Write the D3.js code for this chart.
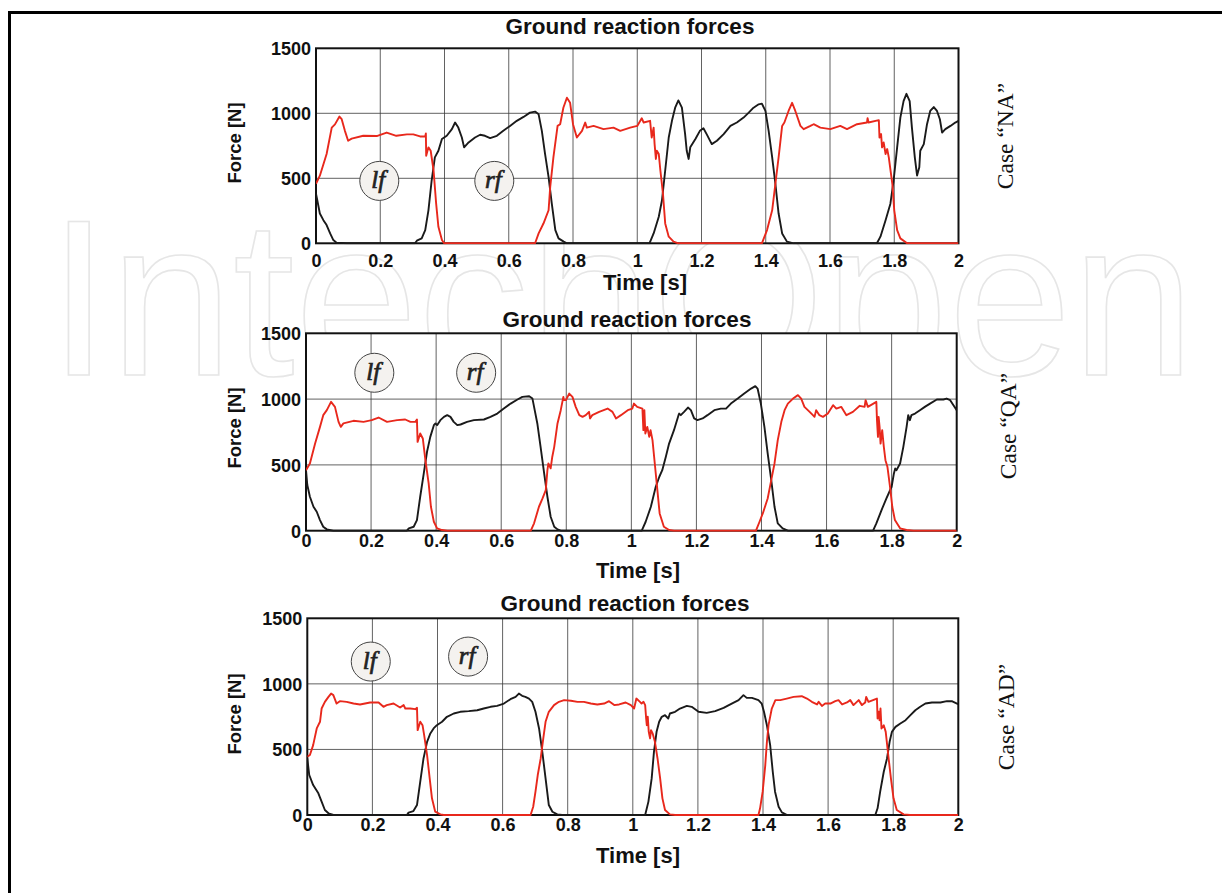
<!DOCTYPE html>
<html>
<head>
<meta charset="utf-8">
<script src="https://cdn.jsdelivr.net/npm/d3@7"></script>
<style>
  html, body { margin: 0; padding: 0; background: #fff; }
  svg { display: block; }
</style>
</head>
<body>
<svg id="chart" width="1222" height="893"></svg>
<script>
// Ground reaction forces of the left foot (lf, red) and right foot (rf, black)
// over two seconds of walking, for three gait cases.

const timeTicks = [0, 0.2, 0.4, 0.6, 0.8, 1, 1.2, 1.4, 1.6, 1.8, 2];
const timeTickLabels = ["0", "0.2", "0.4", "0.6", "0.8", "1", "1.2", "1.4", "1.6", "1.8", "2"];
const forceTicks = [0, 500, 1000, 1500];
const forceTickLabels = ["0", "500", "1000", "1500"];
const caseNames = ["Case \u201CNA\u201D", "Case \u201CQA\u201D", "Case \u201CAD\u201D"];
const footNames = ["lf", "rf"];

// [time s, force N]
const lfNA = [[0,458],[0.012,520],[0.033,687],[0.049,890],[0.059,915],[0.073,975],[0.080,955],[0.090,865],[0.100,789],[0.111,805],[0.147,827],[0.189,825],[0.220,852],[0.250,827],[0.283,838],[0.303,838],[0.324,822],[0.340,822],[0.342,845],[0.343,674],[0.350,738],[0.357,712],[0.366,560],[0.374,305],[0.381,127],[0.392,25],[0.399,0],[0.682,0],[0.693,76],[0.708,152],[0.724,254],[0.729,432],[0.739,661],[0.752,903],[0.760,916],[0.770,1043],[0.781,1120],[0.791,1081],[0.800,916],[0.812,814],[0.828,865],[0.838,929],[0.843,890],[0.864,903],[0.895,878],[0.926,890],[0.947,865],[0.978,890],[1.000,903],[1.014,962],[1.020,929],[1.040,942],[1.045,814],[1.051,890],[1.054,763],[1.058,649],[1.061,712],[1.067,687],[1.072,560],[1.080,382],[1.087,153],[1.098,51],[1.113,13],[1.128,0],[1.388,0],[1.394,38],[1.404,102],[1.420,254],[1.430,458],[1.440,661],[1.451,903],[1.458,929],[1.471,1018],[1.482,1081],[1.492,1018],[1.508,903],[1.518,878],[1.539,903],[1.549,916],[1.570,890],[1.601,878],[1.632,903],[1.653,878],[1.684,916],[1.715,929],[1.717,962],[1.720,929],[1.752,947],[1.754,814],[1.759,840],[1.762,738],[1.767,776],[1.773,687],[1.778,725],[1.783,661],[1.794,458],[1.800,254],[1.809,102],[1.819,38],[1.840,0],[2.0,0]];
const rfNA = [[0,382],[0.004,331],[0.012,229],[0.023,178],[0.033,140],[0.044,76],[0.054,25],[0.064,5],[0.096,0],[0.308,0],[0.314,20],[0.329,38],[0.340,102],[0.350,254],[0.360,483],[0.370,661],[0.381,712],[0.392,802],[0.407,827],[0.423,878],[0.433,929],[0.443,890],[0.454,814],[0.461,738],[0.475,776],[0.495,814],[0.511,835],[0.526,827],[0.542,809],[0.563,827],[0.583,865],[0.604,903],[0.625,942],[0.646,972],[0.666,1005],[0.682,1013],[0.693,992],[0.703,865],[0.713,687],[0.724,509],[0.734,305],[0.745,102],[0.755,38],[0.771,13],[0.781,0],[1.038,0],[1.051,76],[1.067,204],[1.077,331],[1.087,560],[1.098,814],[1.108,942],[1.118,1043],[1.128,1099],[1.139,1043],[1.149,840],[1.154,712],[1.160,649],[1.165,738],[1.181,802],[1.195,865],[1.206,885],[1.216,840],[1.232,763],[1.248,789],[1.269,840],[1.290,903],[1.310,929],[1.331,967],[1.347,1005],[1.362,1043],[1.378,1069],[1.388,1074],[1.399,1018],[1.409,865],[1.420,661],[1.430,458],[1.440,229],[1.451,76],[1.466,13],[1.487,0],[1.746,0],[1.757,51],[1.773,178],[1.788,305],[1.798,483],[1.809,738],[1.819,967],[1.829,1094],[1.838,1150],[1.848,1094],[1.855,890],[1.864,661],[1.871,522],[1.878,585],[1.881,712],[1.892,763],[1.902,916],[1.912,1018],[1.923,1048],[1.933,1018],[1.942,954],[1.949,852],[1.959,878],[1.975,903],[1.990,929],[2.0,941]];

const lfQA = [[0,460],[0.012,511],[0.028,663],[0.043,789],[0.053,878],[0.064,916],[0.077,979],[0.089,941],[0.100,827],[0.107,789],[0.115,815],[0.146,835],[0.177,827],[0.202,840],[0.223,860],[0.249,827],[0.280,840],[0.305,845],[0.321,827],[0.336,827],[0.341,845],[0.343,675],[0.351,739],[0.359,701],[0.367,536],[0.377,359],[0.384,182],[0.393,68],[0.403,18],[0.418,5],[0.434,0],[0.691,0],[0.701,56],[0.716,182],[0.727,245],[0.737,309],[0.742,460],[0.745,511],[0.752,474],[0.757,562],[0.763,637],[0.773,815],[0.783,916],[0.791,1017],[0.793,992],[0.799,992],[0.809,1042],[0.819,1017],[0.829,941],[0.840,878],[0.850,865],[0.860,878],[0.870,903],[0.873,853],[0.880,878],[0.901,903],[0.927,928],[0.942,903],[0.953,853],[0.968,878],[0.989,916],[1.003,928],[1.008,966],[1.018,941],[1.034,928],[1.037,764],[1.040,916],[1.043,739],[1.049,789],[1.055,713],[1.059,764],[1.065,688],[1.073,486],[1.080,309],[1.087,131],[1.100,30],[1.116,5],[1.131,0],[1.383,0],[1.394,68],[1.404,131],[1.419,245],[1.430,384],[1.440,511],[1.450,688],[1.461,827],[1.471,916],[1.481,966],[1.497,1004],[1.512,1030],[1.522,1004],[1.532,941],[1.548,903],[1.558,878],[1.563,865],[1.568,916],[1.578,878],[1.589,865],[1.604,890],[1.620,954],[1.630,928],[1.645,941],[1.661,878],[1.681,903],[1.702,949],[1.717,941],[1.720,992],[1.727,941],[1.753,979],[1.755,840],[1.758,713],[1.760,865],[1.763,789],[1.766,662],[1.771,764],[1.776,637],[1.781,536],[1.787,486],[1.795,334],[1.802,182],[1.810,81],[1.826,18],[1.846,5],[1.867,0],[2.0,0]];
const rfQA = [[0,460],[0.004,347],[0.012,258],[0.023,182],[0.033,144],[0.043,81],[0.053,30],[0.064,10],[0.084,0],[0.310,0],[0.316,18],[0.331,30],[0.341,81],[0.351,258],[0.362,435],[0.372,600],[0.382,713],[0.393,802],[0.398,815],[0.403,802],[0.413,840],[0.424,865],[0.434,878],[0.444,865],[0.454,827],[0.465,802],[0.475,807],[0.495,827],[0.516,840],[0.547,845],[0.567,865],[0.588,890],[0.608,928],[0.629,966],[0.650,997],[0.665,1017],[0.686,1022],[0.696,1004],[0.701,941],[0.711,815],[0.721,637],[0.732,435],[0.742,258],[0.752,106],[0.763,30],[0.773,10],[0.783,0],[1.032,0],[1.044,68],[1.060,182],[1.075,334],[1.086,410],[1.095,460],[1.106,562],[1.116,662],[1.131,764],[1.145,878],[1.147,890],[1.152,878],[1.162,903],[1.174,936],[1.183,916],[1.193,853],[1.203,840],[1.219,853],[1.234,878],[1.255,916],[1.275,928],[1.291,928],[1.306,966],[1.327,1004],[1.347,1042],[1.368,1080],[1.381,1098],[1.388,1080],[1.398,966],[1.409,789],[1.419,587],[1.430,384],[1.440,182],[1.450,56],[1.465,18],[1.481,0],[1.743,0],[1.753,56],[1.769,157],[1.784,245],[1.800,334],[1.807,435],[1.811,473],[1.815,460],[1.826,511],[1.836,637],[1.846,789],[1.851,878],[1.856,840],[1.861,878],[1.872,890],[1.887,916],[1.902,941],[1.918,966],[1.939,997],[1.959,997],[1.969,1004],[1.980,992],[1.990,954],[2.0,916]];

const lfAD = [[0,444],[0.008,457],[0.018,533],[0.029,660],[0.039,711],[0.044,812],[0.054,863],[0.065,901],[0.073,926],[0.080,914],[0.090,850],[0.100,868],[0.121,863],[0.142,850],[0.162,843],[0.193,858],[0.219,858],[0.234,825],[0.244,838],[0.265,850],[0.285,820],[0.296,838],[0.301,812],[0.316,812],[0.332,807],[0.337,817],[0.339,647],[0.347,711],[0.354,685],[0.359,609],[0.368,457],[0.376,279],[0.383,127],[0.393,25],[0.409,5],[0.419,0],[0.686,0],[0.694,63],[0.701,178],[0.708,305],[0.717,431],[0.725,584],[0.732,711],[0.742,787],[0.758,838],[0.773,863],[0.789,876],[0.810,871],[0.830,863],[0.850,863],[0.871,850],[0.891,843],[0.912,850],[0.927,868],[0.943,838],[0.958,843],[0.978,858],[0.994,838],[1.004,812],[1.011,888],[1.022,863],[1.027,850],[1.033,863],[1.038,838],[1.041,736],[1.043,685],[1.046,749],[1.049,634],[1.053,584],[1.056,647],[1.061,622],[1.068,558],[1.076,431],[1.084,279],[1.091,127],[1.099,38],[1.114,5],[1.130,0],[1.386,0],[1.391,51],[1.399,178],[1.407,381],[1.412,558],[1.417,685],[1.427,812],[1.438,876],[1.453,876],[1.473,888],[1.494,901],[1.519,906],[1.535,888],[1.550,863],[1.566,843],[1.571,863],[1.581,832],[1.591,850],[1.607,850],[1.622,868],[1.632,876],[1.643,843],[1.658,858],[1.668,876],[1.678,838],[1.694,876],[1.704,838],[1.714,858],[1.717,901],[1.724,863],[1.750,888],[1.752,736],[1.755,787],[1.758,723],[1.761,812],[1.764,660],[1.771,685],[1.777,634],[1.786,431],[1.793,279],[1.801,127],[1.811,38],[1.832,5],[1.852,0],[2.0,0]];
const rfAD = [[0,431],[0.006,305],[0.018,228],[0.034,165],[0.044,102],[0.054,38],[0.065,13],[0.080,0],[0.306,0],[0.311,18],[0.326,30],[0.337,76],[0.347,254],[0.357,431],[0.368,558],[0.378,622],[0.388,660],[0.398,685],[0.414,711],[0.429,749],[0.450,774],[0.470,787],[0.496,792],[0.522,799],[0.542,812],[0.563,825],[0.583,832],[0.604,850],[0.624,883],[0.640,901],[0.650,926],[0.660,909],[0.670,901],[0.681,888],[0.691,863],[0.701,787],[0.712,660],[0.722,482],[0.732,279],[0.742,76],[0.753,25],[0.768,5],[0.783,0],[1.038,0],[1.048,102],[1.058,279],[1.065,482],[1.073,634],[1.081,711],[1.089,749],[1.099,761],[1.109,736],[1.114,774],[1.130,787],[1.145,812],[1.166,832],[1.181,825],[1.202,787],[1.227,779],[1.253,792],[1.279,817],[1.304,850],[1.325,876],[1.340,914],[1.350,893],[1.366,893],[1.386,876],[1.396,850],[1.403,787],[1.412,685],[1.422,533],[1.430,330],[1.437,178],[1.448,63],[1.458,20],[1.474,0],[1.745,0],[1.752,51],[1.760,178],[1.771,330],[1.781,431],[1.789,558],[1.796,634],[1.807,672],[1.822,698],[1.838,723],[1.853,761],[1.868,799],[1.883,825],[1.899,850],[1.919,858],[1.945,858],[1.965,868],[1.980,868],[1.996,850],[2.0,845]];

// Panel layout (pixels) and where the foot markers sit (data units).
const panels = [
  { lf: lfNA, rf: rfNA, name: caseNames[0], left: 316, right: 958.5, top: 48.3, bottom: 243.3,
    titleX: 630, titleY: 34, tickDy: 23.5, timeX: 645, timeY: 290, forceY: 143,
    caseX: 1013, caseY: 136, markers: [[0.197, 480], [0.555, 480]] },
  { lf: lfQA, rf: rfQA, name: caseNames[1], left: 306, right: 956.7, top: 333.3, bottom: 530.7,
    titleX: 627, titleY: 326.5, tickDy: 16, timeX: 638, timeY: 578, forceY: 428,
    caseX: 1016, caseY: 426, markers: [[0.21, 1200], [0.523, 1200]] },
  { lf: lfAD, rf: rfAD, name: caseNames[2], left: 307.3, right: 958.3, top: 618.3, bottom: 815,
    titleX: 625, titleY: 610.5, tickDy: 15.5, timeX: 638, timeY: 863, forceY: 714,
    caseX: 1014, caseY: 717, markers: [[0.195, 1170], [0.494, 1208]] }
];

const svg = d3.select("#chart");
const sans = "'Liberation Sans', Arial, Helvetica, sans-serif";
const serif = "'Liberation Serif', 'Times New Roman', 'DejaVu Serif', serif";

svg.append("rect").attr("width", 1222).attr("height", 893).attr("fill", "#fff");

// Publisher watermark behind the plots
svg.append("text")
  .attr("x", 48).attr("y", 375)
  .attr("font-family", sans)
  .attr("font-size", 222)
  .attr("textLength", 1147)
  .attr("lengthAdjust", "spacingAndGlyphs")
  .attr("fill", "none")
  .attr("stroke", "#e6e6e6")
  .attr("stroke-width", 1.6)
  .text("IntechOpen");

// Page frame (top and left rules)
svg.append("line").attr("x1", 8).attr("x2", 1222).attr("y1", 12.5).attr("y2", 12.5)
  .attr("stroke", "#000").attr("stroke-width", 3);
svg.append("line").attr("x1", 9.5).attr("x2", 9.5).attr("y1", 11).attr("y2", 893)
  .attr("stroke", "#000").attr("stroke-width", 3);

panels.forEach((p, i) => {
  const x = d3.scaleLinear().domain([0, 2]).range([p.left, p.right]);
  const y = d3.scaleLinear().domain([0, 1500]).range([p.bottom, p.top]);
  const g = svg.append("g");

  g.append("rect")
    .attr("x", p.left).attr("y", p.top)
    .attr("width", p.right - p.left).attr("height", p.bottom - p.top)
    .attr("fill", "#fff");

  // grid
  g.append("g").selectAll("line").data(timeTicks.slice(1, -1)).join("line")
    .attr("x1", d => x(d)).attr("x2", d => x(d))
    .attr("y1", p.top).attr("y2", p.bottom)
    .attr("stroke", "#3a3a3a").attr("stroke-width", 0.8);
  g.append("g").selectAll("line").data(forceTicks.slice(1, -1)).join("line")
    .attr("x1", p.left).attr("x2", p.right)
    .attr("y1", d => y(d)).attr("y2", d => y(d))
    .attr("stroke", "#3a3a3a").attr("stroke-width", 0.8);

  // box
  g.append("rect")
    .attr("x", p.left).attr("y", p.top)
    .attr("width", p.right - p.left).attr("height", p.bottom - p.top)
    .attr("fill", "none").attr("stroke", "#111").attr("stroke-width", 2);

  // curves (drawn over the box so the zero-force stretches show on the axis)
  const clipId = "clip" + i;
  g.append("clipPath").attr("id", clipId).append("rect")
    .attr("x", p.left).attr("y", p.top - 2)
    .attr("width", p.right - p.left).attr("height", p.bottom - p.top + 3);
  const line = d3.line().x(d => x(d[0])).y(d => y(d[1]));
  const curves = g.append("g").attr("clip-path", `url(#${clipId})`);
  curves.append("path").datum(p.rf).attr("d", line)
    .attr("fill", "none").attr("stroke", "#1a1a1a").attr("stroke-width", 1.9)
    .attr("stroke-linejoin", "round");
  curves.append("path").datum(p.lf).attr("d", line)
    .attr("fill", "none").attr("stroke", "#e8281c").attr("stroke-width", 1.9)
    .attr("stroke-linejoin", "round");

  // axes (labels only)
  const xAxis = d3.axisBottom(x).tickValues(timeTicks)
    .tickFormat((d, k) => timeTickLabels[k]).tickSize(0).tickPadding(0);
  const gx = g.append("g").attr("transform", `translate(0,${p.bottom})`).call(xAxis);
  gx.select(".domain").remove();
  gx.selectAll("text")
    .attr("y", p.tickDy).attr("dy", null)
    .attr("font-family", sans).attr("font-weight", "bold").attr("font-size", 18)
    .attr("fill", "#111");

  const yAxis = d3.axisLeft(y).tickValues(forceTicks)
    .tickFormat((d, k) => forceTickLabels[k]).tickSize(0).tickPadding(5);
  const gy = g.append("g").attr("transform", `translate(${p.left},0)`).call(yAxis);
  gy.select(".domain").remove();
  gy.selectAll("text")
    .attr("dy", "0.36em")
    .attr("font-family", sans).attr("font-weight", "bold").attr("font-size", 18)
    .attr("fill", "#111");

  // titles and axis names
  g.append("text").attr("x", p.titleX).attr("y", p.titleY)
    .attr("text-anchor", "middle").attr("font-family", sans)
    .attr("font-weight", "bold").attr("font-size", 22.5).attr("fill", "#111")
    .text("Ground reaction forces");
  g.append("text").attr("x", p.timeX).attr("y", p.timeY)
    .attr("text-anchor", "middle").attr("font-family", sans)
    .attr("font-weight", "bold").attr("font-size", 22).attr("fill", "#111")
    .text("Time [s]");
  g.append("text")
    .attr("transform", `translate(241,${p.forceY}) rotate(-90)`)
    .attr("text-anchor", "middle").attr("font-family", sans)
    .attr("font-weight", "bold").attr("font-size", 18.5).attr("fill", "#111")
    .text("Force [N]");
  g.append("text")
    .attr("transform", `translate(${p.caseX},${p.caseY}) rotate(-90)`)
    .attr("text-anchor", "middle").attr("font-family", serif)
    .attr("font-size", 23.5).attr("fill", "#111")
    .text(p.name);

  // foot markers
  p.markers.forEach((m, k) => {
    const cx = x(m[0]), cy = y(m[1]);
    g.append("circle").attr("cx", cx).attr("cy", cy).attr("r", 19.5)
      .attr("fill", "#f4f2ef").attr("stroke", "#444").attr("stroke-width", 1);
    g.append("text").attr("x", cx - 1).attr("y", cy + 7)
      .attr("text-anchor", "middle").attr("font-family", serif)
      .attr("font-style", "italic")
      .attr("font-size", 25).attr("fill", "#222")
      .attr("stroke", "#222").attr("stroke-width", 0.7)
      .text(footNames[k]);
  });
});
</script>
</body>
</html>
